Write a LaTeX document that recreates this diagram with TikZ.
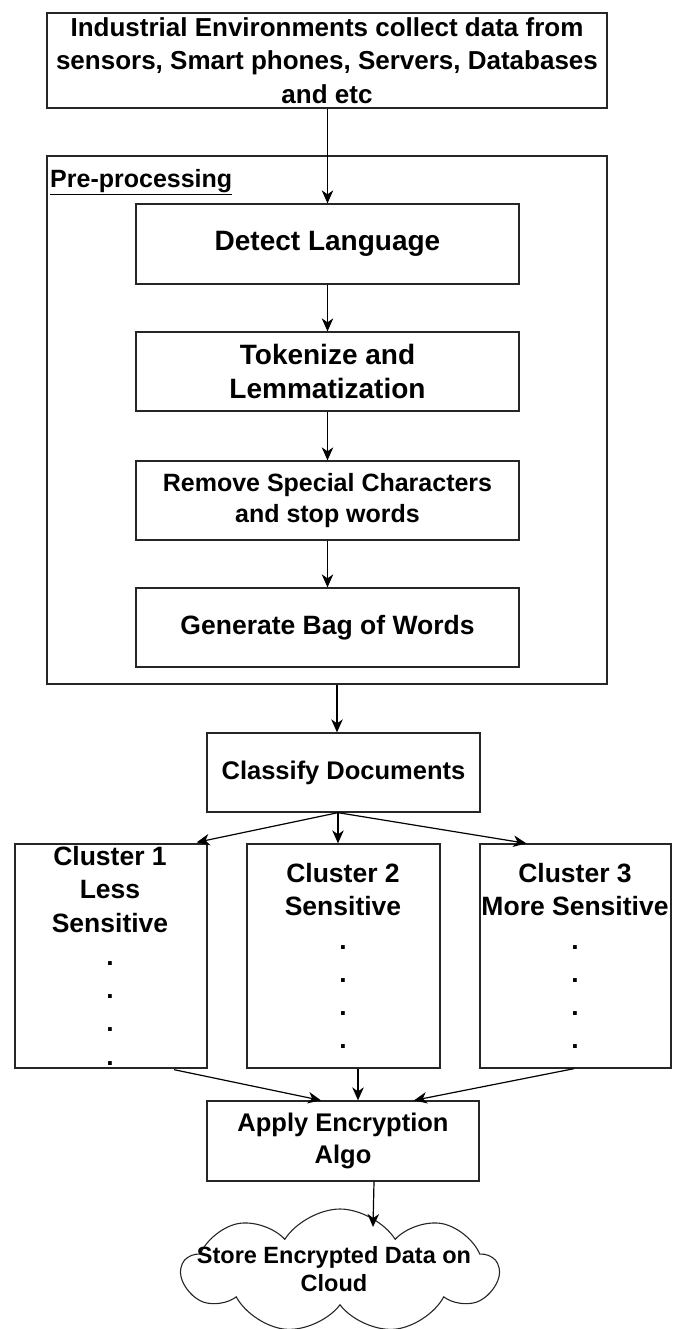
\documentclass[tikz,border=0pt]{standalone}
\usepackage{fontspec}
\setmainfont{Liberation Sans}
\usetikzlibrary{arrows.meta,shapes.symbols,calc}

\begin{document}
\begin{tikzpicture}[x=1pt,y=-1pt,
  box/.style={draw=black!85, line width=1.3pt, fill=white, align=center, inner sep=0pt},
  frame/.style={draw=black!85, line width=1.3pt, inner sep=0pt},
  txt/.style={align=center, inner sep=0pt, font=\bfseries},
  arr/.style={-{Stealth[length=13pt,width=11.5pt,inset=4pt]}, line width=1.2pt},
  fs/.style n args={2}{font=\fontsize{#1}{#2}\selectfont\bfseries}
]
\useasboundingbox (0,0) rectangle (672,1329);

% data source
\node[box, minimum width=560, minimum height=95, fs={26}{33.5}] (src) at (327,60.5)
  {Industrial Environments collect data from\\sensors, Smart phones, Servers, Databases\\and etc};

% pre-processing frame
\node[frame, minimum width=560, minimum height=528] (pre) at (327,420) {};
\node[txt, anchor=west, fs={25}{30}] (prelbl) at (50,182) {\underline{Pre-processing}};

% pre-processing steps
\node[box, minimum width=383, minimum height=80, fs={28}{34}] (det) at (327.5,244) {Detect Language};
\node[box, minimum width=383, minimum height=79, fs={28}{34}] (tok) at (327.5,371.5) {Tokenize and\\Lemmatization};
\node[box, minimum width=383, minimum height=79, fs={25}{31}] (rem) at (327.5,500.5) {Remove Special Characters\\and stop words};
\node[box, minimum width=383, minimum height=79, fs={26.5}{32}] (bag) at (327.5,627.5) {Generate Bag of Words};

% classification
\node[box, minimum width=273, minimum height=79, fs={25.5}{32}] (cls) at (343.5,772.5) {Classify Documents};

% clusters
\node[box, minimum width=192, minimum height=224] (c1) at (111,956) {};
\node[box, minimum width=193, minimum height=224] (c2) at (343.5,956) {};
\node[box, minimum width=191, minimum height=224] (c3) at (575.5,956) {};

\node[txt, fs={26.5}{33.3}, anchor=north] (c1t) at (110,846)
  {Cluster 1\\Less\\Sensitive\\.\\.\\.\\.};
\node[txt, fs={26.5}{33.3}, anchor=north] (c2t) at (343,863)
  {Cluster 2\\Sensitive\\.\\.\\.\\.};
\node[txt, fs={26.5}{33.3}, anchor=north] (c3t) at (575,863)
  {Cluster 3\\More Sensitive\\.\\.\\.\\.};

% encryption and storage
\node[box, minimum width=272, minimum height=80, fs={25.5}{32}] (enc) at (343,1141) {Apply Encryption\\Algo};
\node[cloud, draw=black!85, line width=1.1pt, fill=white, cloud puffs=9, cloud puff arc=115,
      aspect=2.6, minimum width=316, minimum height=124, inner sep=0pt] (cloud) at (340,1271) {};
\node[txt, fs={23.5}{28}] (cloudt) at (334,1269) {Store Encrypted Data on\\Cloud};

% connectors
\draw[arr] (src.south -| det.north) -- (det.north);
\draw[arr] (det) -- (tok);
\draw[arr] (tok) -- (rem);
\draw[arr] (rem) -- (bag);
\draw[arr] ([xshift=10pt]pre.south) -- ([xshift=-6.5pt]cls.north);
\coordinate (fork) at ([xshift=-5.5pt]cls.south);
\draw[arr] (fork) -- ([xshift=-11pt,yshift=1pt]c1.north east);
\draw[arr] (fork) -- (c2.north -| fork);
\draw[arr] (fork) -- ([xshift=47pt]c3.north west);
\draw[arr] ([xshift=63pt,yshift=-1pt]c1.south) -- ([xshift=-22pt]enc.north);
\draw[arr] ([xshift=14.5pt]c2.south) -- ([xshift=15pt]enc.north);
\draw[arr] (c3.south -| 574,0) -- ([xshift=71pt]enc.north);
\coordinate (drop) at ([xshift=33pt,yshift=44pt]cloud.center);
\draw[arr] ([xshift=31pt]enc.south) -- (drop);
\end{tikzpicture}
\end{document}
